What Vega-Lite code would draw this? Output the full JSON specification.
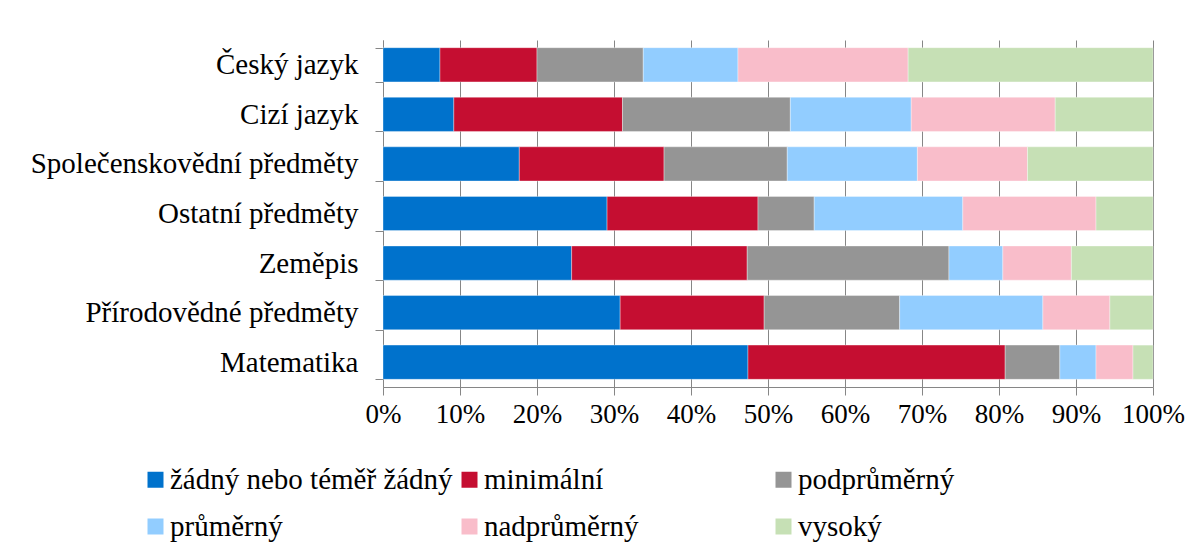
{
  "$schema": "https://vega.github.io/schema/vega-lite/v6.json",
  "autosize": {"type": "none"},
  "width": 770,
  "height": 347,
  "padding": {"left": 383, "top": 40, "right": 49, "bottom": 169},
  "background": "white",
  "config": {
    "view": {"stroke": null},
    "font": "Liberation Serif"
  },
  "data": {
    "values": [
      {"predmet": "Český jazyk", "uroven": "žádný nebo téměř žádný", "i": 1, "pct": 7.4},
      {"predmet": "Český jazyk", "uroven": "minimální", "i": 2, "pct": 12.6},
      {"predmet": "Český jazyk", "uroven": "podprůměrný", "i": 3, "pct": 13.8},
      {"predmet": "Český jazyk", "uroven": "průměrný", "i": 4, "pct": 12.3},
      {"predmet": "Český jazyk", "uroven": "nadprůměrný", "i": 5, "pct": 22.1},
      {"predmet": "Český jazyk", "uroven": "vysoký", "i": 6, "pct": 31.8},
      {"predmet": "Cizí jazyk", "uroven": "žádný nebo téměř žádný", "i": 1, "pct": 9.2},
      {"predmet": "Cizí jazyk", "uroven": "minimální", "i": 2, "pct": 21.9},
      {"predmet": "Cizí jazyk", "uroven": "podprůměrný", "i": 3, "pct": 21.8},
      {"predmet": "Cizí jazyk", "uroven": "průměrný", "i": 4, "pct": 15.7},
      {"predmet": "Cizí jazyk", "uroven": "nadprůměrný", "i": 5, "pct": 18.7},
      {"predmet": "Cizí jazyk", "uroven": "vysoký", "i": 6, "pct": 12.7},
      {"predmet": "Společenskovědní předměty", "uroven": "žádný nebo téměř žádný", "i": 1, "pct": 17.7},
      {"predmet": "Společenskovědní předměty", "uroven": "minimální", "i": 2, "pct": 18.8},
      {"predmet": "Společenskovědní předměty", "uroven": "podprůměrný", "i": 3, "pct": 16.0},
      {"predmet": "Společenskovědní předměty", "uroven": "průměrný", "i": 4, "pct": 16.9},
      {"predmet": "Společenskovědní předměty", "uroven": "nadprůměrný", "i": 5, "pct": 14.3},
      {"predmet": "Společenskovědní předměty", "uroven": "vysoký", "i": 6, "pct": 16.3},
      {"predmet": "Ostatní předměty", "uroven": "žádný nebo téměř žádný", "i": 1, "pct": 29.1},
      {"predmet": "Ostatní předměty", "uroven": "minimální", "i": 2, "pct": 19.6},
      {"predmet": "Ostatní předměty", "uroven": "podprůměrný", "i": 3, "pct": 7.3},
      {"predmet": "Ostatní předměty", "uroven": "průměrný", "i": 4, "pct": 19.3},
      {"predmet": "Ostatní předměty", "uroven": "nadprůměrný", "i": 5, "pct": 17.3},
      {"predmet": "Ostatní předměty", "uroven": "vysoký", "i": 6, "pct": 7.4},
      {"predmet": "Zeměpis", "uroven": "žádný nebo téměř žádný", "i": 1, "pct": 24.5},
      {"predmet": "Zeměpis", "uroven": "minimální", "i": 2, "pct": 22.8},
      {"predmet": "Zeměpis", "uroven": "podprůměrný", "i": 3, "pct": 26.2},
      {"predmet": "Zeměpis", "uroven": "průměrný", "i": 4, "pct": 7.0},
      {"predmet": "Zeměpis", "uroven": "nadprůměrný", "i": 5, "pct": 8.9},
      {"predmet": "Zeměpis", "uroven": "vysoký", "i": 6, "pct": 10.6},
      {"predmet": "Přírodovědné předměty", "uroven": "žádný nebo téměř žádný", "i": 1, "pct": 30.8},
      {"predmet": "Přírodovědné předměty", "uroven": "minimální", "i": 2, "pct": 18.7},
      {"predmet": "Přírodovědné předměty", "uroven": "podprůměrný", "i": 3, "pct": 17.6},
      {"predmet": "Přírodovědné předměty", "uroven": "průměrný", "i": 4, "pct": 18.6},
      {"predmet": "Přírodovědné předměty", "uroven": "nadprůměrný", "i": 5, "pct": 8.7},
      {"predmet": "Přírodovědné předměty", "uroven": "vysoký", "i": 6, "pct": 5.6},
      {"predmet": "Matematika", "uroven": "žádný nebo téměř žádný", "i": 1, "pct": 47.4},
      {"predmet": "Matematika", "uroven": "minimální", "i": 2, "pct": 33.4},
      {"predmet": "Matematika", "uroven": "podprůměrný", "i": 3, "pct": 7.1},
      {"predmet": "Matematika", "uroven": "průměrný", "i": 4, "pct": 4.7},
      {"predmet": "Matematika", "uroven": "nadprůměrný", "i": 5, "pct": 4.8},
      {"predmet": "Matematika", "uroven": "vysoký", "i": 6, "pct": 2.6}
    ]
  },
  "mark": {"type": "bar", "stroke": "white", "strokeOpacity": 0.35, "strokeWidth": 1},
  "encoding": {
    "y": {
      "field": "predmet",
      "type": "nominal",
      "sort": ["Český jazyk", "Cizí jazyk", "Společenskovědní předměty", "Ostatní předměty", "Zeměpis", "Přírodovědné předměty", "Matematika"],
      "scale": {"paddingInner": 0.31, "paddingOuter": 0.155},
      "axis": {
        "title": null,
        "tickBand": "extent",
        "tickSize": 8,
        "tickColor": "#868686",
        "domainColor": "#868686",
        "labelFontSize": 29,
        "labelColor": "#000000",
        "labelPadding": 17,
        "labelFont": "Liberation Serif",
        "labelLimit": 0,
        "grid": false
      }
    },
    "x": {
      "field": "pct",
      "type": "quantitative",
      "stack": "normalize",
      "scale": {"domain": [0, 1], "nice": false},
      "axis": {
        "title": null,
        "format": ".0%",
        "values": [0, 0.1, 0.2, 0.3, 0.4, 0.5, 0.6, 0.7, 0.8, 0.9, 1],
        "grid": true,
        "gridColor": "#868686",
        "gridWidth": 1,
        "tickSize": 8,
        "tickColor": "#868686",
        "domainColor": "#868686",
        "labelFontSize": 27,
        "labelColor": "#000000",
        "labelPadding": 6,
        "labelFont": "Liberation Serif",
        "labelFlush": false
      }
    },
    "color": {
      "field": "uroven",
      "type": "nominal",
      "sort": ["žádný nebo téměř žádný", "minimální", "podprůměrný", "průměrný", "nadprůměrný", "vysoký"],
      "scale": {
        "domain": ["žádný nebo téměř žádný", "minimální", "podprůměrný", "průměrný", "nadprůměrný", "vysoký"],
        "range": ["#0072CC", "#C50E31", "#959595", "#92CDFF", "#F9BDCA", "#C6E0B5"]
      },
      "legend": {
        "title": null,
        "orient": "none",
        "legendX": -242,
        "legendY": 425,
        "direction": "horizontal",
        "columns": 3,
        "gridAlign": "all",
        "columnPadding": 2,
        "rowPadding": 17,
        "padding": 0,
        "symbolType": "square",
        "symbolSize": 256,
        "symbolStrokeWidth": 0,
        "symbolOpacity": 1,
        "labelFontSize": 29,
        "labelFont": "Liberation Serif",
        "labelColor": "#000000",
        "labelOffset": 0,
        "labelLimit": 0
      }
    },
    "order": {"field": "i", "type": "quantitative"}
  }
}
